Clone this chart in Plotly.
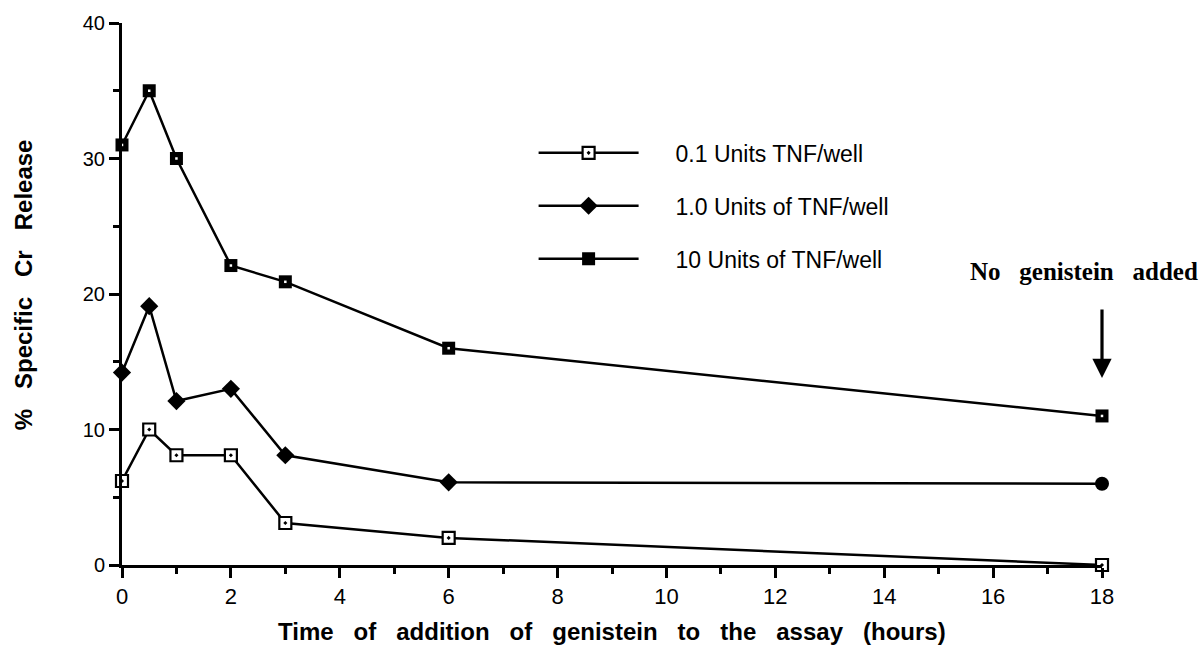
import plotly.graph_objects as go

hours = [0, 0.5, 1, 2, 3, 6, 18]
tnf_01 = [6.2, 10.0, 8.1, 8.1, 3.1, 2.0, 0.0]
tnf_1 = [14.2, 19.1, 12.1, 13.0, 8.1, 6.1, 6.0]
tnf_10 = [31.0, 35.0, 30.0, 22.1, 20.9, 16.0, 11.0]
names = ["0.1 Units TNF/well", "1.0 Units of TNF/well", "10 Units of TNF/well"]
x_ticks = [0, 2, 4, 6, 8, 10, 12, 14, 16, 18]
y_ticks = [0, 10, 20, 30, 40]

SANS = "Liberation Sans, Arial, sans-serif"
pad = "\u00a0" * 5

fig = go.Figure()
fig.add_trace(go.Scatter(
    x=hours, y=tnf_01, mode="lines+markers", name=pad + names[0],
    legendgroup="a", cliponaxis=False,
    line=dict(color="black", width=2.5),
    marker=dict(symbol="square-dot", size=12, color="white",
                line=dict(color="black", width=2.2))))
sym1 = ["diamond"] * (len(hours) - 1) + ["circle"]
fig.add_trace(go.Scatter(
    x=hours, y=tnf_1, mode="lines+markers", name=pad + names[1],
    legendgroup="b", cliponaxis=False,
    line=dict(color="black", width=2.5),
    marker=dict(symbol=sym1, size=14, color="black",
                line=dict(color="black", width=0))))
fig.add_trace(go.Scatter(
    x=hours, y=tnf_10, mode="lines+markers", name=pad + names[2],
    legendgroup="c", cliponaxis=False,
    line=dict(color="black", width=2.5),
    marker=dict(symbol="square", size=13, color="black",
                line=dict(color="black", width=0))))
fig.add_trace(go.Scatter(
    x=hours, y=tnf_10, mode="markers", showlegend=False, cliponaxis=False,
    hoverinfo="skip",
    marker=dict(symbol="square", size=2.5, color="white", line=dict(width=0))))

axis_common = dict(
    showline=True, linecolor="black", linewidth=3,
    ticks="outside", tickcolor="black", tickwidth=2.5, ticklen=10,
    showgrid=False, zeroline=False,
)
fig.update_xaxes(range=[0, 18], tickvals=x_ticks, ticktext=[str(v) for v in x_ticks],
                 tickfont=dict(family=SANS, size=22, color="black"),
                 minor=dict(dtick=1, ticks="outside", ticklen=6, tickwidth=2.5,
                            tickcolor="black", showgrid=False),
                 **axis_common)
fig.update_yaxes(range=[0, 40], tickvals=y_ticks, ticktext=[str(v) for v in y_ticks],
                 tickfont=dict(family=SANS, size=20, color="black"),
                 minor=dict(dtick=5, ticks="outside", ticklen=6, tickwidth=2.5,
                            tickcolor="black", showgrid=False),
                 **axis_common)

sp = "\u00a0" * 3
fig.add_annotation(
    text=sp.join("Time of addition of genistein to the assay (hours)".split(" ")),
    xref="paper", yref="paper", x=0.5, y=-0.122, showarrow=False,
    font=dict(family=SANS, size=24, color="black", weight="bold"),
    xanchor="center", yanchor="middle")
fig.add_annotation(
    text=sp.join("% Specific Cr Release".split(" ")),
    xref="paper", yref="paper", x=-0.101, y=0.516, showarrow=False, textangle=-90,
    font=dict(family=SANS, size=24, color="black", weight="bold"),
    xanchor="center", yanchor="middle")
fig.add_annotation(
    text=("\u00a0" * 3).join("No genistein added".split(" ")),
    xref="paper", yref="paper", x=1.1, y=0.542, showarrow=False,
    font=dict(family="Liberation Serif, Times New Roman, serif", size=25,
              color="black", weight="bold"),
    xanchor="right", yanchor="middle")
fig.add_annotation(
    x=hours[-1], y=13.8, xref="x", yref="y", ax=0, ay=-70, text="",
    showarrow=True, arrowhead=2, arrowsize=1.2, arrowwidth=3.2, arrowcolor="black")

fig.update_layout(
    width=1204, height=656,
    margin=dict(l=122, r=102, t=23, b=91),
    paper_bgcolor="white", plot_bgcolor="white",
    showlegend=True,
    legend=dict(x=0.42, y=0.8, xanchor="left", yanchor="top",
                itemwidth=100, tracegroupgap=20, traceorder="grouped",
                font=dict(family=SANS, size=23, color="black"),
                bgcolor="rgba(0,0,0,0)"),
)
fig.write_html("out.html")
